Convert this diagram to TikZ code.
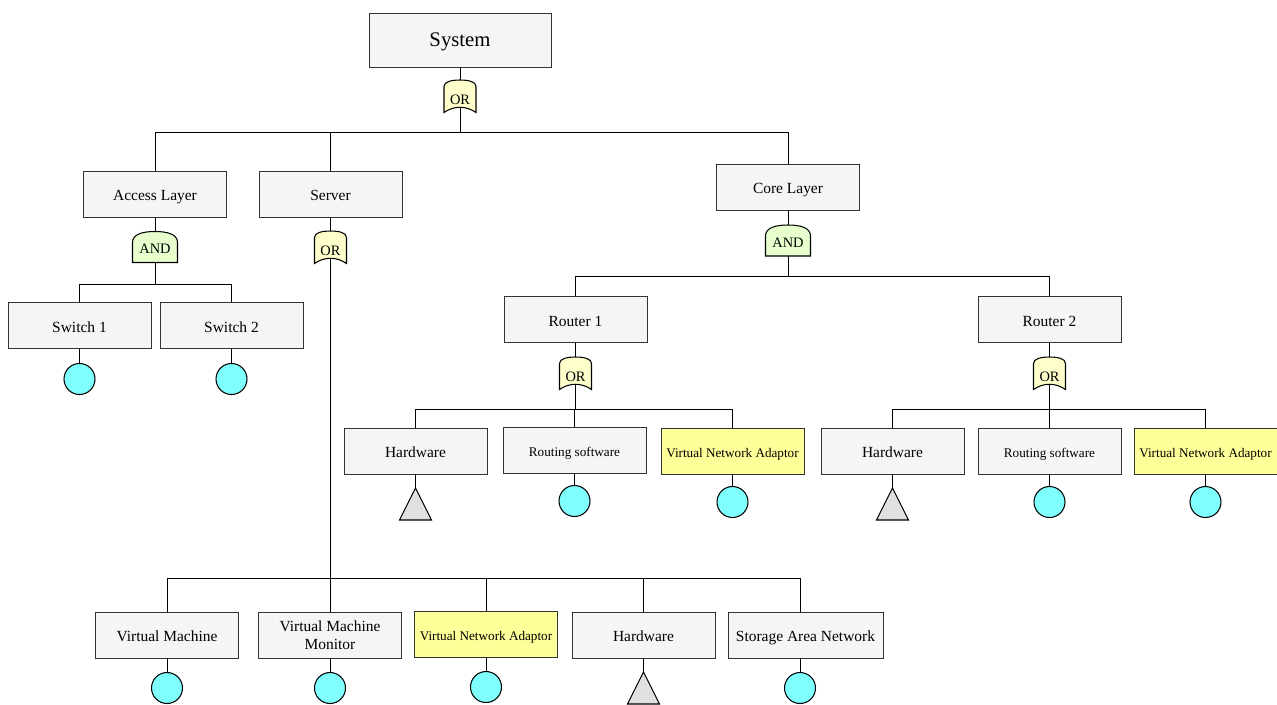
\documentclass[tikz,border=0pt]{standalone}
\usepackage{fontspec}
\setmainfont{Liberation Serif}
\usetikzlibrary{positioning, calc}
\definecolor{BOX}{HTML}{F5F5F5}
\definecolor{VNA}{HTML}{FFFF99}
\definecolor{ORG}{HTML}{FFFFCC}
\definecolor{ANDG}{HTML}{E6FFCC}
\definecolor{BASIC}{HTML}{80FFFF}
\definecolor{UNDEV}{HTML}{E0E0E0}
\tikzset{
  BOX/.style={% Style for event boxes
      rectangle, line width=0.5pt,
      draw=black!80, fill=BOX,
      align=center,
      minimum width=2.86cm,
      minimum height=0.92cm,
      text height=1.9ex,
      text depth=.25ex,
      inner sep=1pt,
      font=\fontsize{8.8}{10.2}\selectfont,
  },
  SMALL/.style={BOX, font=\fontsize{7.5}{9}\selectfont},% smaller text
  VNA/.style={SMALL, fill=VNA},% yellow boxes
  BASIC/.style={% basic events
      circle, draw=black, fill=BASIC,
      line width=0.6pt,
      minimum size=0.62cm, inner sep=0pt
  },
  UNDEV/.style={draw=black, fill=UNDEV, line width=0.6pt},
  GATE/.style={font=\fontsize{8.2}{9}\selectfont, inner sep=0pt},
  LINK/.style={line width=0.5pt, draw=black},
}
\def\orgate(#1)#2{%
  \begin{scope}[shift={(#1)}]
    \draw[line width=0.6pt, fill=ORG] (-16,16) -- (-16,-10)
      .. controls (-16,-15) and (-8,-16.5) .. (0,-16.5)
      .. controls (8,-16.5) and (16,-15) .. (16,-10) -- (16,16)
      .. controls (6,9) and (-6,9) .. (-16,16) -- cycle;
    \node[GATE] (#2) at (0,3.5) {OR};
    \coordinate (#2 top) at (0,-16.5);
    \coordinate (#2 bot) at (0,11);
  \end{scope}
}
\def\andgate(#1)#2{%
  \begin{scope}[shift={(#1)}]
    \draw[line width=0.6pt, fill=ANDG] (-22.5,15.5) -- (-22.5,-4.5)
      .. controls (-22.5,-13) and (-12,-15.5) .. (0,-15.5)
      .. controls (12,-15.5) and (22.5,-13) .. (22.5,-4.5) -- (22.5,15.5) -- cycle;
    \node[GATE] (#2) at (0,2) {AND};
    \coordinate (#2 top) at (0,-15.5);
    \coordinate (#2 bot) at (0,15.5);
  \end{scope}
}
\def\undev(#1)#2{% undeveloped event, apex at #1
  \coordinate (#2) at (#1);
  \draw[UNDEV] (#2) -- ++(16,32) -- ++(-32,0) -- cycle;
}
\begin{document}
\begin{tikzpicture}[x=0.02cm, y=-0.02cm]
  \useasboundingbox (0,0) rectangle (1277,704);
  % top event
  \node[BOX, minimum width=3.64cm, minimum height=1.08cm,
    font=\fontsize{11.8}{13}\selectfont] (sys) at (460,40) {System};
  \orgate(460,96.5){sysg}
  % first level
  \node[BOX] (acc) at (155,194) {Access Layer};
  \node[BOX] (srv) at (330.5,194) {Server};
  \node[BOX] (core) at (788,187) {Core Layer};
  \andgate(155,247){accg}
  \orgate(330.5,247.5){srvg}
  \andgate(788,240.5){coreg}
  % access layer
  \node[BOX] (sw1) at (79.5,325.5) {Switch 1};
  \node[BOX] (sw2) at (231.5,325.5) {Switch 2};
  \node[BASIC] (sw1e) at (79.5,379) {};
  \node[BASIC] (sw2e) at (231.5,379) {};
  % core layer
  \node[BOX] (r1) at (575.5,319.5) {Router 1};
  \node[BOX] (r2) at (1049.5,319.5) {Router 2};
  \orgate(575.5,373.5){r1g}
  \orgate(1049.5,373.5){r2g}
  \node[BOX] (hw1) at (415.5,451) {Hardware};
  \node[SMALL] (rs1) at (574.5,450) {Routing software};
  \node[VNA] (vna1) at (732.5,451) {Virtual Network Adaptor};
  \node[BOX] (hw2) at (892.5,451) {Hardware};
  \node[SMALL] (rs2) at (1049.5,451) {Routing software};
  \node[VNA] (vna2) at (1205.5,451) {Virtual Network Adaptor};
  \undev(415.5,488){hw1t}
  \undev(892.5,488){hw2t}
  \node[BASIC] (rs1e) at (574.5,501) {};
  \node[BASIC] (vna1e) at (732.5,502) {};
  \node[BASIC] (rs2e) at (1049.5,502) {};
  \node[BASIC] (vna2e) at (1205.5,502) {};
  % server
  \node[BOX] (vm) at (167,635) {Virtual Machine};
  \node[BOX, text height=17.6pt] (vmm) at (330,635) {Virtual Machine\\Monitor};
  \node[VNA] (vna3) at (486,634) {Virtual Network Adaptor};
  \node[BOX] (hw3) at (643.5,635) {Hardware};
  \node[BOX, minimum width=3.1cm] (san) at (805.5,635) {Storage Area Network};
  \node[BASIC] (vme) at (167,688) {};
  \node[BASIC] (vmme) at (330,688) {};
  \node[BASIC] (vna3e) at (486,687) {};
  \undev(643.5,672){hw3t}
  \node[BASIC] (sane) at (800,688) {};
  % connectors
  \draw[LINK] (sys.south) -- (sysg top);
  \foreach \c in {acc,srv,core}
    \draw[LINK] (sysg bot) -- ++(0,24.5) -| (\c.north);
  \draw[LINK] (acc.south) -- (accg top);
  \draw[LINK] (srv.south) -- (srvg top);
  \draw[LINK] (core.south) -- (coreg top);
  \foreach \c in {sw1,sw2}
    \draw[LINK] (accg bot) -- ++(0,21.5) -| (\c.north);
  \foreach \c in {r1,r2}
    \draw[LINK] (coreg bot) -- ++(0,20) -| (\c.north);
  \draw[LINK] (r1.south) -- (r1g top);
  \draw[LINK] (r2.south) -- (r2g top);
  \foreach \c in {hw1,rs1,vna1}
    \draw[LINK] (r1g bot) -- ++(0,24.5) -| (\c.north);
  \foreach \c in {hw2,rs2,vna2}
    \draw[LINK] (r2g bot) -- ++(0,24.5) -| (\c.north);
  \foreach \c in {vm,vmm,vna3,hw3}
    \draw[LINK] (srvg bot) -- ++(0,319.5) -| (\c.north);
  \draw[LINK] (srvg bot) -- ++(0,319.5) -| (sane |- san.north);
  % leaves
  \foreach \c in {sw1,sw2,rs1,vna1,rs2,vna2,vm,vmm,vna3}
    \draw[LINK] (\c.south) -- (\c e.north);
  \draw[LINK] (sane.north) -- (sane |- san.south);
  \draw[LINK] (hw1.south) -- (hw1t);
  \draw[LINK] (hw2.south) -- (hw2t);
  \draw[LINK] (hw3.south) -- (hw3t);
\end{tikzpicture}
\end{document}
